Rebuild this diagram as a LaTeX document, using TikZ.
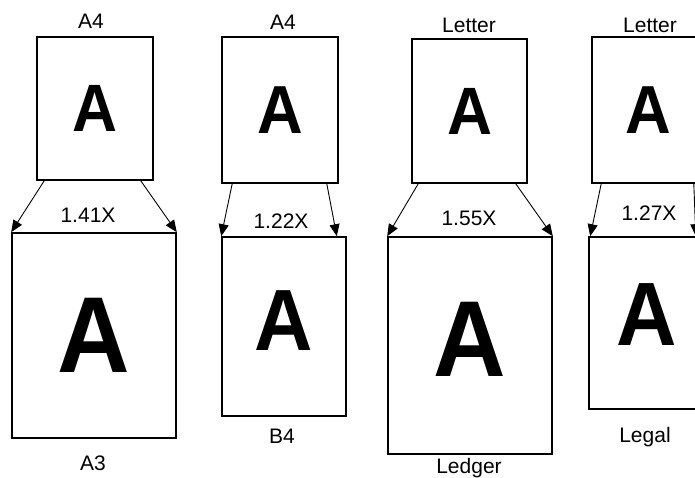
\documentclass[tikz,border=0pt]{standalone}
\usepackage{fontspec}
\setmainfont{Liberation Sans}
\usetikzlibrary{arrows.meta}
\newcommand\sheetA[1]{\scalebox{0.93}[1]{\fontsize{#1}{#1}\selectfont A}}
\begin{document}
\begin{tikzpicture}[x=1pt,y=-1pt,
  sheet/.style={draw,line width=1.6pt,inner sep=0pt,font=\bfseries},
  tag/.style={anchor=base,inner sep=0pt,font=\fontsize{21}{21}\selectfont},
  scalearrow/.style={line width=0.9pt,-{Triangle[length=12pt,width=10pt]}}]
  \useasboundingbox (0,0) rectangle (695,477);
  \fill[white] (0,0) rectangle (695,477);
  \clip (0,0) rectangle (695,477);
  % A4 -> A3
  \node[sheet,minimum width=116pt,minimum height=143pt] (a4a) at (95,108.5) {\sheetA{67}};
  \node[sheet,minimum width=164pt,minimum height=205pt] (a3) at (94,335.5) {\sheetA{108}};
  \node[tag] (a4alab) at (91,28) {A4};
  \node[tag] (a3lab) at (93,470) {A3};
  \node[tag] (r1) at (88,222) {1.41X};
  \draw[scalearrow] ([xshift=8pt]a4a.south west) -- (a3.north west);
  \draw[scalearrow] ([xshift=-13pt]a4a.south east) -- (a3.north east);
  % A4 -> B4
  \node[sheet,minimum width=116pt,minimum height=146pt] (a4b) at (280,110) {\sheetA{68}};
  \node[sheet,minimum width=124pt,minimum height=179pt,text depth=11pt] (b4) at (284,326.5) {\sheetA{87}};
  \node[tag] (a4blab) at (283,29) {A4};
  \node[tag] (b4lab) at (282,443) {B4};
  \node[tag] (r2) at (281,228) {1.22X};
  \draw[scalearrow] ([xshift=11pt]a4b.south west) -- (b4.north west);
  \draw[scalearrow] ([xshift=-12pt]a4b.south east) -- ([xshift=-10pt]b4.north east);
  % Letter -> Ledger
  \node[sheet,minimum width=115pt,minimum height=144pt] (lta) at (469.5,111) {\sheetA{67}};
  \node[sheet,minimum width=164pt,minimum height=217pt,text depth=13pt] (ledger) at (470,345.5) {\sheetA{108}};
  \node[tag] (ltalab) at (469,32) {Letter};
  \node[tag] (ledgerlab) at (469,473) {Ledger};
  \node[tag] (r3) at (469,225) {1.55X};
  \draw[scalearrow] ([xshift=7pt]lta.south west) -- (ledger.north west);
  \draw[scalearrow] ([xshift=-12pt]lta.south east) -- (ledger.north east);
  % Letter -> Legal
  \node[sheet,minimum width=112pt,minimum height=146pt] (ltb) at (648,110) {\sheetA{68}};
  \node[sheet,minimum width=116pt,minimum height=172pt,text depth=16pt] (legal) at (647,323) {\sheetA{90}};
  \node[tag] (ltblab) at (650,32) {Letter};
  \node[tag] (legallab) at (645,442) {Legal};
  \node[tag] (r4) at (649,220) {1.27X};
  \draw[scalearrow] ([xshift=10pt]ltb.south west) -- ([xshift=2pt]legal.north west);
  \draw[scalearrow] ([xshift=-11pt]ltb.south east) -- ([xshift=-10pt]legal.north east);
\end{tikzpicture}
\end{document}
